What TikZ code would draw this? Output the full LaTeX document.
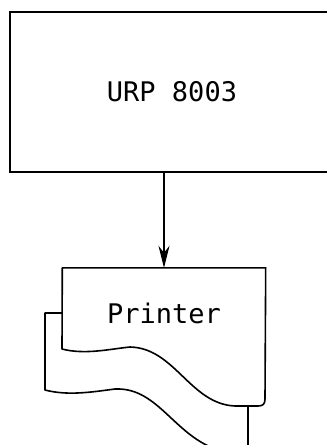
\documentclass[tikz,border=0pt]{standalone}
\usepackage{fontspec}
\setmonofont{DejaVu Sans Mono}
\usetikzlibrary{arrows.meta,positioning}
\tikzset{
  base/.style={font=\ttfamily\fontsize{27}{30}\selectfont,align=center,inner sep=0pt},
  unit/.style={base,draw=black,line width=1.6pt,minimum width=324pt,minimum height=160pt},
  device/.style={base,minimum width=203pt,minimum height=90pt},
  page/.style={draw=black,line width=1.6pt,line join=round},
  flow/.style={-{Stealth[length=22pt,width=11pt,inset=7pt]},line width=1.4pt,draw=black}
}

\begin{document}
\begin{tikzpicture}[x=1pt,y=-1pt]
\useasboundingbox (0,0) rectangle (327,445);
\clip (0,0) rectangle (327,445);
\node[unit] (urp) at (172,92) {URP 8003};
\node[device] (prn) at (164,313) {Printer};

% front sheet
\draw[page] (prn.north west) -- (62,349)
  .. controls (85,355) and (110,349) .. (130,347)
  .. controls (175,348) and (190,404) .. (235,406)
  -- (258,406) .. controls (263,406) and (265,404) .. (265,399)
  -- (prn.north east) -- cycle;
% back sheet
\draw[page] (62,313) -- (45,313) -- (45,390)
  .. controls (68,396) and (92,392) .. (115,389)
  .. controls (160,387) and (175,440) .. (225,452)
  -- (248,452) -- (248,406);

\draw[flow] (prn.north |- urp.south) -- (prn.north);
\end{tikzpicture}
\end{document}
